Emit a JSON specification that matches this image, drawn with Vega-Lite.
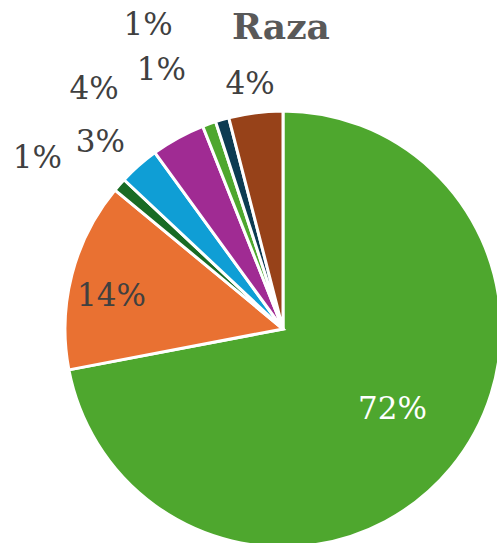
{
  "$schema": "https://vega.github.io/schema/vega-lite/v6.json",
  "autosize": "none",
  "width": 428,
  "height": 428,
  "padding": {"left": 69, "top": 115, "right": 0, "bottom": 0},
  "background": "white",
  "view": {"stroke": null},
  "title": {"text": "Raza", "font": "DejaVu Serif", "fontSize": 36, "fontWeight": "bold", "color": "#595959", "anchor": "middle", "frame": "group", "offset": -47, "dx": -2},
  "data": {"values": [
    {"raza": "Categoría 1", "orden": 1, "value": 72, "label": "72%"},
    {"raza": "Categoría 2", "orden": 2, "value": 14, "label": "14%"},
    {"raza": "Categoría 3", "orden": 3, "value": 1, "label": "1%"},
    {"raza": "Categoría 4", "orden": 4, "value": 3, "label": "3%"},
    {"raza": "Categoría 5", "orden": 5, "value": 4, "label": "4%"},
    {"raza": "Categoría 6", "orden": 6, "value": 1, "label": "1%"},
    {"raza": "Categoría 7", "orden": 7, "value": 1, "label": "1%"},
    {"raza": "Categoría 8", "orden": 8, "value": 4, "label": "4%"}
  ]},
  "encoding": {
    "theta": {"field": "value", "type": "quantitative", "stack": true},
    "order": {"field": "orden", "type": "quantitative"},
    "color": {"field": "raza", "type": "nominal", "legend": null,
      "scale": {"domain": ["Categoría 1", "Categoría 2", "Categoría 3", "Categoría 4", "Categoría 5", "Categoría 6", "Categoría 7", "Categoría 8"],
                "range": ["#4EA72E", "#E97132", "#196B24", "#0F9ED5", "#A02B93", "#4EA72E", "#0C3B52", "#974219"]}}
  },
  "layer": [
    {"mark": {"type": "arc", "outerRadius": 218, "stroke": "white", "strokeWidth": 3}},
    {"mark": {"type": "text", "radius": 137, "dx": 4, "dy": -6, "font": "DejaVu Serif", "fontSize": 31},
     "encoding": {"text": {"condition": {"test": "datum.orden == 1", "field": "label"}, "value": ""}, "color": {"value": "white"}}},
    {"mark": {"type": "text", "radius": 174, "dx": -3, "dy": 11, "font": "DejaVu Serif", "fontSize": 31},
     "encoding": {"text": {"condition": {"test": "datum.orden == 2", "field": "label"}, "value": ""}, "color": {"value": "#404040"}}},
    {"mark": {"type": "text", "radius": 298, "dx": -22, "dy": 27, "font": "DejaVu Serif", "fontSize": 31},
     "encoding": {"text": {"condition": {"test": "datum.orden == 3", "field": "label"}, "value": ""}, "color": {"value": "#404040"}}},
    {"mark": {"type": "text", "radius": 261, "dx": -10, "dy": 10, "font": "DejaVu Serif", "fontSize": 31},
     "encoding": {"text": {"condition": {"test": "datum.orden == 4", "field": "label"}, "value": ""}, "color": {"value": "#404040"}}},
    {"mark": {"type": "text", "radius": 305, "dx": -42, "dy": 28, "font": "DejaVu Serif", "fontSize": 31},
     "encoding": {"text": {"condition": {"test": "datum.orden == 5", "field": "label"}, "value": ""}, "color": {"value": "#404040"}}},
    {"mark": {"type": "text", "radius": 285, "dx": -25, "dy": 10, "font": "DejaVu Serif", "fontSize": 31},
     "encoding": {"text": {"condition": {"test": "datum.orden == 6", "field": "label"}, "value": ""}, "color": {"value": "#404040"}}},
    {"mark": {"type": "text", "radius": 333, "dx": -42, "dy": 17, "font": "DejaVu Serif", "fontSize": 31},
     "encoding": {"text": {"condition": {"test": "datum.orden == 7", "field": "label"}, "value": ""}, "color": {"value": "#404040"}}},
    {"mark": {"type": "text", "radius": 246, "dx": -2, "dy": 0, "font": "DejaVu Serif", "fontSize": 31},
     "encoding": {"text": {"condition": {"test": "datum.orden == 8", "field": "label"}, "value": ""}, "color": {"value": "#404040"}}}
  ]
}
